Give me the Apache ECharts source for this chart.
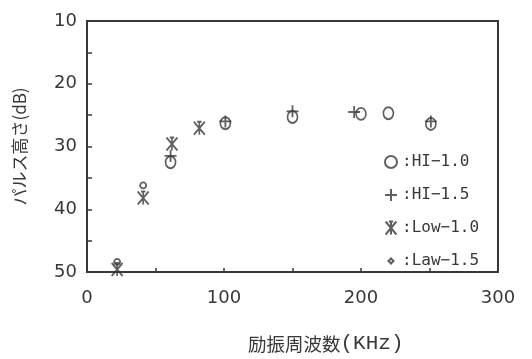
<!DOCTYPE html>
<html><head><meta charset="utf-8">
<script src="https://cdn.jsdelivr.net/npm/echarts@6/dist/echarts.min.js"></script>
<style>html,body{margin:0;padding:0;background:#fff}#c{width:532px;height:359px}</style>
</head><body><div id="c"></div>
<script>
// Data
var seriesNames = ['HI−1.0', 'HI−1.5', 'Low−1.0', 'Law−1.5'];
var hi10 = [[61, 32.5], [101, 26.3], [150, 25.3], [200, 24.8], [220, 24.7], [251, 26.4]];
var hi15 = [[61, 31.5], [101, 26.0], [150, 24.4], [195, 24.5], [251, 26.0]];
var low10 = [[22, 49.6], [41, 38.2], [62, 29.6], [82, 27.1]];
var low15 = [[22, 48.4], [41, 36.2]];
var xTicks = [0, 100, 200, 300];
var yTicks = [10, 20, 30, 40, 50];
var xTitleA = '励振周波数';
var xTitleB = '(KHz)';
var yTitle = 'パルス高さ(dB)';

var ink = '#383838';
var lowSym = 'path://M0,0 L10,12 M10,0 L0,12 M5,0 L5,12 M3,0 L7,0';
var plusSym = 'path://M5,0 L5,10 M0,5 L10,5';
var smallSym = 'path://M0,0 M12,12 M3.5,6 L6,3.5 L8.5,6 L6,8.5 Z';
var chart = echarts.init(document.getElementById('c'));
function mk(name, data, symbol, size) {
  return {
    name: name, type: 'scatter', data: data, symbol: symbol, symbolSize: size,
    itemStyle: {color: 'rgba(0,0,0,0)', borderColor: ink, borderWidth: 1.8},
    emphasis: {disabled: true}
  };
}
chart.setOption({
  animation: false,
  grid: {left: 87, right: 34, top: 21, bottom: 87, show: true, borderColor: ink, borderWidth: 2},
  legend: {
    orient: 'vertical', left: 379, top: 149, itemGap: 17, itemWidth: 12, itemHeight: 13,
    textStyle: {fontFamily: 'DejaVu Sans Mono', fontSize: 16, color: ink},
    formatter: function (n) { return ':' + n; },
    data: [
      {name: seriesNames[0]},
      {name: seriesNames[1]},
      {name: seriesNames[2]},
      {name: seriesNames[3], icon: smallSym}
    ]
  },
  xAxis: {
    type: 'value', min: 0, max: 300, interval: 50,
    axisLine: {lineStyle: {color: ink, width: 2}},
    axisTick: {inside: true, length: 4, lineStyle: {color: ink, width: 1.5}},
    splitLine: {show: false},
    axisLabel: {
      margin: 17, color: ink, fontFamily: 'DejaVu Sans', fontSize: 18,
      formatter: function (v) { return xTicks.indexOf(v) >= 0 ? String(v) : ''; }
    }
  },
  yAxis: {
    type: 'value', min: 10, max: 50, interval: 5, inverse: true,
    name: yTitle, nameLocation: 'middle', nameRotate: 90, nameGap: 59,
    nameTextStyle: {fontFamily: 'Noto Sans CJK JP', fontSize: 17, color: ink},
    axisLine: {lineStyle: {color: ink, width: 2}},
    axisTick: {inside: true, length: 5, lineStyle: {color: ink, width: 1.5}},
    splitLine: {show: false},
    axisLabel: {
      margin: 10, color: ink, fontFamily: 'DejaVu Sans', fontSize: 18,
      formatter: function (v) { return yTicks.indexOf(v) >= 0 ? String(v) : ''; }
    }
  },
  graphic: [{
    type: 'text', left: 248, top: 333,
    style: {
      text: '{a|' + xTitleA + '}{b|' + xTitleB + '}',
      rich: {
        a: {fontFamily: 'Noto Sans CJK JP', fontSize: 18.5, fill: ink, color: ink},
        b: {fontFamily: 'Liberation Mono', fontSize: 21, fill: ink, color: ink}
      }
    }
  }],
  series: [
    mk(seriesNames[0], hi10, 'circle', [10, 12]),
    mk(seriesNames[1], hi15, plusSym, 12),
    mk(seriesNames[2], low10, lowSym, [11, 13]),
    mk(seriesNames[3], low15, 'circle', 6)
  ]
});
</script></body></html>
